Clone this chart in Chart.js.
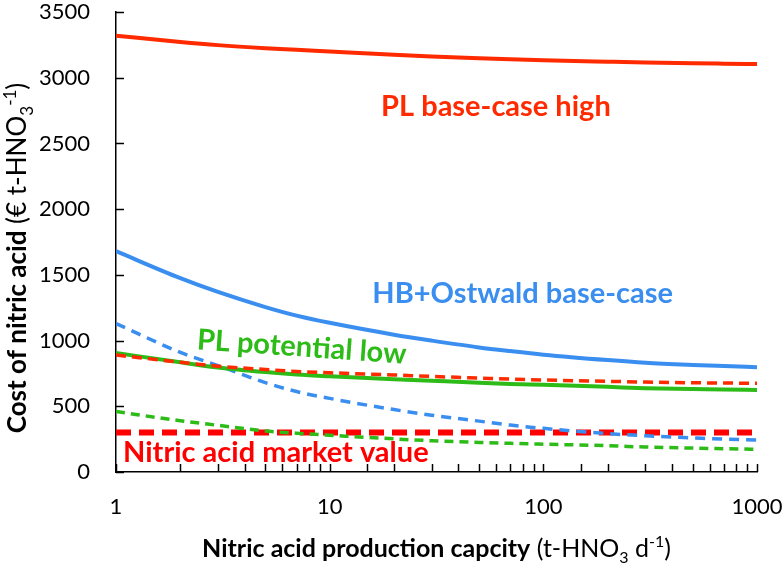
<!DOCTYPE html>
<html>
<head>
<meta charset="utf-8">
<script src="https://cdn.jsdelivr.net/npm/chart.js@4.4.1/dist/chart.umd.min.js"></script>
<style>
  html, body { margin: 0; padding: 0; background: #fff; }
  #wrap { width: 784px; height: 566px; position: relative; }
</style>
</head>
<body>
<div id="wrap"><canvas id="costChart"></canvas></div>
<script>
// 生産能力 (t-HNO3/d)
const capacity = [1, 2, 3, 5, 7, 10, 20, 30, 50, 70, 100, 200, 300, 500, 700, 1000];

// 硝酸コスト (€/t-HNO3)
const plBaseHigh   = [3320, 3272, 3248, 3225, 3213, 3200, 3175, 3162, 3148, 3140, 3133, 3122, 3116, 3110, 3107, 3104];
const hbBase       = [1680, 1475, 1370, 1255, 1190, 1135, 1045, 1000, 948, 920, 893, 852, 832, 815, 806, 797];
const hbLow        = [1130, 910, 810, 680, 612, 560, 475, 432, 387, 357, 332, 292, 276, 260, 250, 243];
const plPotHigh    = [890, 835, 805, 780, 765, 755, 738, 727, 715, 707, 700, 690, 684, 679, 677, 675];
const plPotLow     = [905, 835, 795, 760, 742, 728, 705, 694, 680, 670, 663, 648, 638, 632, 628, 624];
const plLow        = [460, 390, 355, 312, 295, 280, 252, 238, 225, 218, 212, 200, 190, 182, 177, 173];
const marketValue  = [300, 300, 300, 300, 300, 300, 300, 300, 300, 300, 300, 300, 300, 300, 300, 300];

const xMajorTicks = [1, 10, 100, 1000];

// 色
const RED = '#FF2A00';
const RED_MARKET = '#FF0000';
const BLUE = '#3A8EEF';
const GREEN = '#2DBB18';
const FONT = 'Lato, "Open Sans", sans-serif';

// グラフ内のラベル
const curveLabels = [
    {text: 'PL base-case high', x: 60, y: 2780, color: RED, rot: 0},
    {text: 'HB+Ostwald base-case', x: 80, y: 1355, color: BLUE, rot: 0},
    {text: 'PL potential low', x: 7.4, y: 950, color: GREEN, rot: 4},
    {text: 'Nitric acid market value', x: 5.6, y: 148, color: RED_MARKET, rot: 0}
];

function toPoints(values) {
    return capacity.map((c, i) => ({x: c, y: values[i]}));
}

function lineSet(label, values, color, width, dash) {
    return {
        label: label,
        data: toPoints(values),
        borderColor: color,
        backgroundColor: color,
        borderWidth: width,
        borderDash: dash || [],
        pointRadius: 0,
        cubicInterpolationMode: 'monotone',
        fill: false
    };
}

// 混在フォント（太字・下付き・上付き）の描画
function drawRich(ctx, parts, size, cx, cy, angle) {
    const fontFor = p => (p.bold ? 'bold ' : '') + Math.round(p.sub || p.sup ? size * 0.65 : size) + 'px ' + FONT;
    let total = 0;
    parts.forEach(p => { ctx.font = fontFor(p); total += ctx.measureText(p.t).width; });
    ctx.save();
    ctx.translate(cx, cy);
    ctx.rotate(angle);
    ctx.textBaseline = 'alphabetic';
    ctx.textAlign = 'left';
    ctx.fillStyle = '#000';
    let x = -total / 2;
    const base = size * 0.35;
    parts.forEach(p => {
        ctx.font = fontFor(p);
        let dy = 0;
        if (p.sub) dy = size * 0.25;
        if (p.sup) dy = -size * 0.4;
        ctx.fillText(p.t, x, base + dy);
        x += ctx.measureText(p.t).width;
    });
    ctx.restore();
}

const decorPlugin = {
    id: 'decor',
    afterDraw(chart) {
        const ctx = chart.ctx;
        const xs = chart.scales.x;
        const ys = chart.scales.y;
        const area = chart.chartArea;

        // 内向きの目盛り
        ctx.save();
        ctx.strokeStyle = '#000';
        ctx.lineWidth = 1.5;
        ctx.beginPath();
        xs.ticks.forEach(t => {
            const px = Math.round(xs.getPixelForValue(t.value)) + 0.5;
            ctx.moveTo(px, area.bottom);
            ctx.lineTo(px, area.bottom - 8);
        });
        ys.ticks.forEach(t => {
            const py = Math.round(ys.getPixelForValue(t.value)) + 0.5;
            ctx.moveTo(area.left, py);
            ctx.lineTo(area.left + 8, py);
        });
        ctx.stroke();
        ctx.restore();

        // 曲線ラベル
        curveLabels.forEach(l => {
            ctx.save();
            ctx.translate(xs.getPixelForValue(l.x), ys.getPixelForValue(l.y));
            ctx.rotate(l.rot * Math.PI / 180);
            ctx.font = 'bold 29px ' + FONT;
            ctx.fillStyle = l.color;
            ctx.textAlign = 'center';
            ctx.textBaseline = 'middle';
            ctx.fillText(l.text, 0, 0);
            ctx.restore();
        });

        // 軸タイトル
        drawRich(ctx, [
            {t: 'Nitric acid production capcity', bold: true},
            {t: ' (t-HNO'},
            {t: '3', sub: true},
            {t: ' d'},
            {t: '-1', sup: true},
            {t: ')'}
        ], 25, (area.left + area.right) / 2, 548, 0);

        drawRich(ctx, [
            {t: 'Cost of nitric acid', bold: true},
            {t: ' (€ t-HNO'},
            {t: '3', sub: true},
            {t: '-1', sup: true},
            {t: ')'}
        ], 26, 17, 258, -Math.PI / 2);
    }
};

const ctx = document.getElementById('costChart').getContext('2d');
const costChart = new Chart(ctx, {
    type: 'line',
    data: {
        datasets: [
            lineSet('PL base-case high', plBaseHigh, RED, 4),
            lineSet('HB+Ostwald base-case', hbBase, BLUE, 4),
            lineSet('PL potential high', plPotHigh, RED, 3.5, [10, 6]),
            lineSet('PL potential low', plPotLow, GREEN, 4),
            lineSet('HB+Ostwald low', hbLow, BLUE, 3.5, [10, 7]),
            lineSet('PL low', plLow, GREEN, 3.5, [9, 6]),
            lineSet('Nitric acid market value', marketValue, RED_MARKET, 6, [15, 8])
        ]
    },
    options: {
        responsive: true,
        maintainAspectRatio: false,
        animation: false,
        layout: {
            padding: {left: 0, right: 27, top: 12, bottom: 0}
        },
        plugins: {
            legend: {display: false},
            tooltip: {enabled: false}
        },
        scales: {
            x: {
                type: 'logarithmic',
                min: 1,
                max: 1000,
                border: {display: true, color: '#000', width: 1.5},
                grid: {display: false, drawTicks: false},
                ticks: {
                    autoSkip: false,
                    maxRotation: 0,
                    padding: 22,
                    color: '#000',
                    font: {family: FONT, size: 22},
                    callback: function(value) {
                        return xMajorTicks.includes(value) ? String(value) : '';
                    }
                },
                afterFit: function(scale) {
                    scale.height = 94;
                    scale.paddingLeft = 0;
                    scale.paddingRight = 0;
                }
            },
            y: {
                min: 0,
                max: 3500,
                border: {display: true, color: '#000', width: 1.5},
                grid: {display: false, drawTicks: false},
                ticks: {
                    stepSize: 500,
                    padding: 26,
                    color: '#000',
                    font: {family: FONT, size: 22},
                    callback: function(value) { return String(value); }
                },
                afterFit: function(scale) {
                    scale.width = 116;
                    scale.paddingTop = 0;
                    scale.paddingBottom = 0;
                }
            }
        }
    },
    plugins: [decorPlugin]
});
</script>
</body>
</html>
